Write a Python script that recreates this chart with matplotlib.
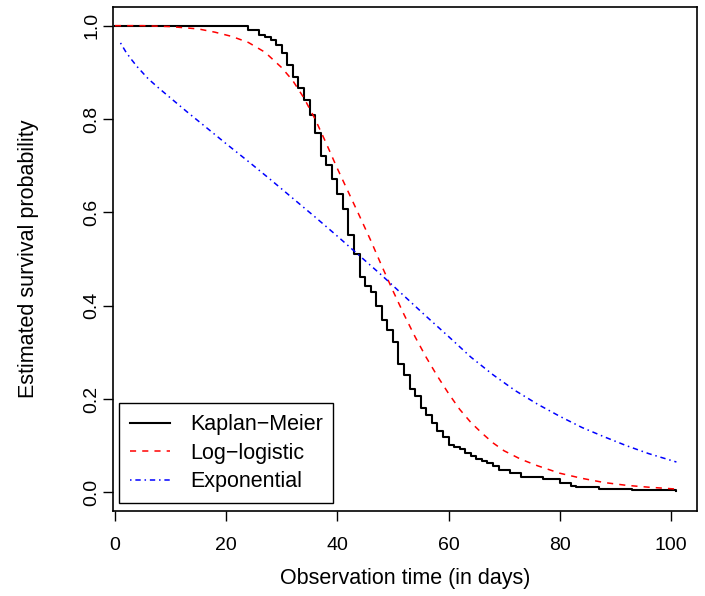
import matplotlib
matplotlib.use("Agg")
import numpy as np
import matplotlib.pyplot as plt

plt.rcParams['font.family'] = ['Liberation Sans', 'DejaVu Sans']

# Kaplan-Meier 阶梯（时间, 生存率）
km_time = [0, 24, 26, 27, 28, 29, 30, 31, 32, 33, 34, 35, 36, 37, 38, 39, 40, 41,
           42, 43, 44, 45, 46, 47, 48, 49, 50, 51, 52, 53, 54, 55, 56, 57, 58, 59,
           60, 61, 62, 63, 64, 65, 66, 67, 68, 69, 71, 73, 77, 80, 82, 83, 87, 93, 101]
km_surv = [1.0, 0.991, 0.981, 0.976, 0.970, 0.959, 0.941, 0.915, 0.890, 0.867, 0.840,
           0.809, 0.770, 0.721, 0.702, 0.671, 0.639, 0.607, 0.551, 0.511, 0.462, 0.442,
           0.430, 0.400, 0.370, 0.347, 0.322, 0.276, 0.251, 0.222, 0.206, 0.181, 0.165,
           0.149, 0.132, 0.118, 0.101, 0.097, 0.092, 0.085, 0.078, 0.072, 0.067, 0.062,
           0.056, 0.047, 0.042, 0.033, 0.028, 0.021, 0.013, 0.012, 0.008, 0.004, 0.002]

# Log-logistic 拟合曲线（读图取点）
ll_time = [0, 5, 10, 15, 18, 21, 24, 27, 30, 32, 34, 36, 38, 40, 42, 44, 46, 48, 50,
           52, 54, 56, 58, 60, 62, 64, 66, 68, 70, 73, 76, 80, 84, 88, 92, 96, 101]
ll_surv = [1.000, 1.000, 0.998, 0.993, 0.986, 0.977, 0.964, 0.943, 0.910, 0.882,
           0.845, 0.800, 0.748, 0.694, 0.643, 0.592, 0.540, 0.485, 0.432, 0.381,
           0.333, 0.289, 0.249, 0.212, 0.178, 0.150, 0.127, 0.106, 0.089, 0.071,
           0.057, 0.041, 0.030, 0.021, 0.015, 0.011, 0.007]

# Exponential 拟合曲线（读图取点）
ex_time = [1, 2, 3, 4, 6, 8, 10, 13, 16, 20, 24, 28, 32, 36, 40, 44, 48, 52, 56, 60,
           64, 68, 72, 76, 80, 84, 88, 92, 96, 101]
ex_surv = [0.963, 0.943, 0.927, 0.912, 0.886, 0.865, 0.845, 0.815, 0.786, 0.747,
           0.709, 0.670, 0.630, 0.590, 0.549, 0.507, 0.465, 0.421, 0.377, 0.334,
           0.290, 0.252, 0.218, 0.189, 0.163, 0.139, 0.119, 0.100, 0.083, 0.065]

fig = plt.figure(figsize=(7.05, 5.96), dpi=100)
ax = fig.add_axes([113/705, 1-511/596, 584/705, 504/596])

ax.step(km_time, km_surv, where='post', color='black', lw=1.5, label='Kaplan\u2212Meier')
ax.plot(ll_time, ll_surv, color='red', lw=1.1, dashes=(4, 4), label='Log\u2212logistic')
ax.plot(ex_time, ex_surv, color='blue', lw=1.1, dashes=(1, 2.5, 3.5, 2.5), label='Exponential')

ax.set_xlim(-0.35, 104.7)
ax.set_ylim(-0.04, 1.04)
ax.set_xticks([0, 20, 40, 60, 80, 100])
ax.set_yticks([0.0, 0.2, 0.4, 0.6, 0.8, 1.0])
ax.set_yticklabels(['0.0', '0.2', '0.4', '0.6', '0.8', '1.0'], rotation=90, va='center')
ax.tick_params(direction='out', length=7, width=1, labelsize=14)
ax.tick_params(axis='x', pad=12)
ax.tick_params(axis='y', pad=2)
for s in ax.spines.values():
    s.set_linewidth(1.2)

ax.set_xlabel('Observation time (in days)', fontsize=15.5, labelpad=10)
ax.set_ylabel('Estimated survival probability', fontsize=15.5, labelpad=32)

leg = ax.legend(loc='lower left', bbox_to_anchor=(0.0103, 0.0159), borderaxespad=0,
                fancybox=False, edgecolor='black', framealpha=1, fontsize=15.5,
                handlelength=1.86, handletextpad=0.93, borderpad=0.5, labelspacing=0.35)
leg.get_frame().set_linewidth(1.0)

plt.savefig('out.png', dpi=100)
